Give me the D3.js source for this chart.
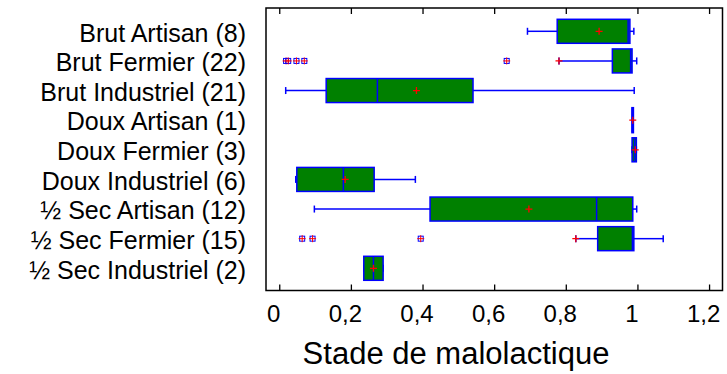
<!DOCTYPE html>
<html>
<head>
<meta charset="utf-8">
<script src="https://cdn.jsdelivr.net/npm/d3@7"></script>
<style>
  body { margin: 0; background: #fff; }
  text { font-family: "Liberation Sans", Arial, sans-serif; fill: #000; }
</style>
</head>
<body>
<svg width="727" height="374"></svg>
<script>
// groups and sample sizes
var categories = ["Brut Artisan", "Brut Fermier", "Brut Industriel", "Doux Artisan", "Doux Fermier",
  "Doux Industriel", "½ Sec Artisan", "½ Sec Fermier", "½ Sec Industriel"];
var counts = [8, 22, 21, 1, 3, 6, 12, 15, 2];

// box plot stats
var whiskLo = [0.693, 0.781, 0.018, 0.986, 0.985, 0.046, 0.098, 0.828, 0.236];
var q1      = [0.776, 0.930, 0.131, 0.986, 0.985, 0.049, 0.421, 0.889, 0.236];
var median  = [0.974, 0.981, 0.274, 0.986, 0.992, 0.179, 0.886, 0.986, 0.263];
var q3      = [0.979, 0.985, 0.541, 0.986, 0.997, 0.265, 0.987, 0.990, 0.290];
var whiskHi = [0.990, 0.998, 0.991, 0.986, 0.997, 0.380, 0.998, 1.072, 0.290];
var means   = [0.893, 0.781, 0.383, 0.987, 0.994, 0.184, 0.697, 0.828, 0.263];
var outliers = [[], [0.019, 0.025, 0.048, 0.070, 0.635], [], [], [], [], [], [0.064, 0.093, 0.395], []];

var xTicks = [0, 0.2, 0.4, 0.6, 0.8, 1, 1.2];
var xTitle = "Stade de malolactique";

var svg = d3.select("svg");
var plotL = 266, plotR = 722.5, plotT = 8, plotB = 290.5;

var x = d3.scaleLinear().domain([-0.037, 1.2375]).range([plotL, plotR]);
var y = d3.scalePoint().domain(categories).range([31.3, 268.3]);
var boxH = 24;

var fmt = function(d){ return String(d).replace(".", ","); };

// frame
svg.append("rect")
  .attr("x", plotL).attr("y", plotT)
  .attr("width", plotR - plotL).attr("height", plotB - plotT)
  .attr("fill", "none").attr("stroke", "#000").attr("stroke-width", 1.5);

// ticks inside, top and bottom
var axB = svg.append("g").attr("transform", "translate(0," + plotB + ")")
  .call(d3.axisBottom(x).tickValues(xTicks).tickSize(-6).tickPadding(13).tickFormat(fmt));
var axT = svg.append("g").attr("transform", "translate(0," + plotT + ")")
  .call(d3.axisTop(x).tickValues(xTicks).tickSize(-6).tickFormat(""));
[axB, axT].forEach(function(a){
  a.select(".domain").remove();
  a.selectAll(".tick line").attr("stroke", "#000").attr("stroke-width", 1.3);
});
axB.selectAll(".tick text")
  .attr("font-size", 24).attr("dx", -6).attr("dy", "0.75em")
  .style("font-family", "'Liberation Sans', Arial, sans-serif");

// category labels
svg.append("g").selectAll("text")
  .data(categories)
  .enter().append("text")
  .attr("x", 246)
  .attr("y", function(d){ return y(d); })
  .attr("dy", "0.41em")
  .attr("text-anchor", "end")
  .attr("font-size", 25)
  .text(function(d, i){ return d + " (" + counts[i] + ")"; });

// x title
svg.append("text")
  .attr("x", 456)
  .attr("y", 364)
  .attr("text-anchor", "middle")
  .attr("font-size", 31)
  .text(xTitle);

var blue = "#0000ff", green = "#008000", red = "#ff0000";

var g = svg.append("g").selectAll("g")
  .data(categories)
  .enter().append("g")
  .attr("transform", function(d){ return "translate(0," + y(d) + ")"; });

// whiskers
g.append("line")
  .attr("x1", function(d, i){ return x(whiskLo[i]); })
  .attr("x2", function(d, i){ return x(q1[i]); })
  .attr("stroke", blue).attr("stroke-width", 1.5);
g.append("line")
  .attr("x1", function(d, i){ return x(q3[i]); })
  .attr("x2", function(d, i){ return x(whiskHi[i]); })
  .attr("stroke", blue).attr("stroke-width", 1.5);
g.each(function(d, i){
  var s = d3.select(this);
  [whiskLo[i], whiskHi[i]].forEach(function(v){
    if (counts[i] > 1) {
      s.append("line")
        .attr("x1", x(v)).attr("x2", x(v))
        .attr("y1", -3.5).attr("y2", 3.5)
        .attr("stroke", blue).attr("stroke-width", 1.5);
    }
  });
});

// boxes
g.append("rect")
  .attr("x", function(d, i){ return x(q1[i]); })
  .attr("y", -boxH / 2)
  .attr("width", function(d, i){ return Math.max(0.5, x(q3[i]) - x(q1[i])); })
  .attr("height", boxH)
  .attr("fill", green)
  .attr("stroke", blue)
  .attr("stroke-width", function(d, i){ return counts[i] === 1 ? 2.5 : 1.5; });

// medians
g.append("line")
  .attr("x1", function(d, i){ return x(median[i]); })
  .attr("x2", function(d, i){ return x(median[i]); })
  .attr("y1", -boxH / 2).attr("y2", boxH / 2)
  .attr("stroke", blue).attr("stroke-width", 1.5);

// outliers: square with a cross
g.each(function(d, i){
  var s = d3.select(this);
  outliers[i].forEach(function(v){
    s.append("rect")
      .attr("x", x(v) - 2.5).attr("y", -2.5)
      .attr("width", 5).attr("height", 5)
      .attr("fill", "none").attr("stroke", blue).attr("stroke-width", 1);
    s.append("path")
      .attr("d", "M" + (x(v) - 3.5) + ",0H" + (x(v) + 3.5) + "M" + x(v) + ",-3.5V3.5")
      .attr("stroke", red).attr("stroke-width", 1);
  });
});

// means
g.append("path")
  .attr("d", function(d, i){
    var cx = x(means[i]);
    return "M" + (cx - 3.5) + ",0H" + (cx + 3.5) + "M" + cx + ",-3.5V3.5";
  })
  .attr("stroke", red).attr("stroke-width", 1.3);
</script>
</body>
</html>
